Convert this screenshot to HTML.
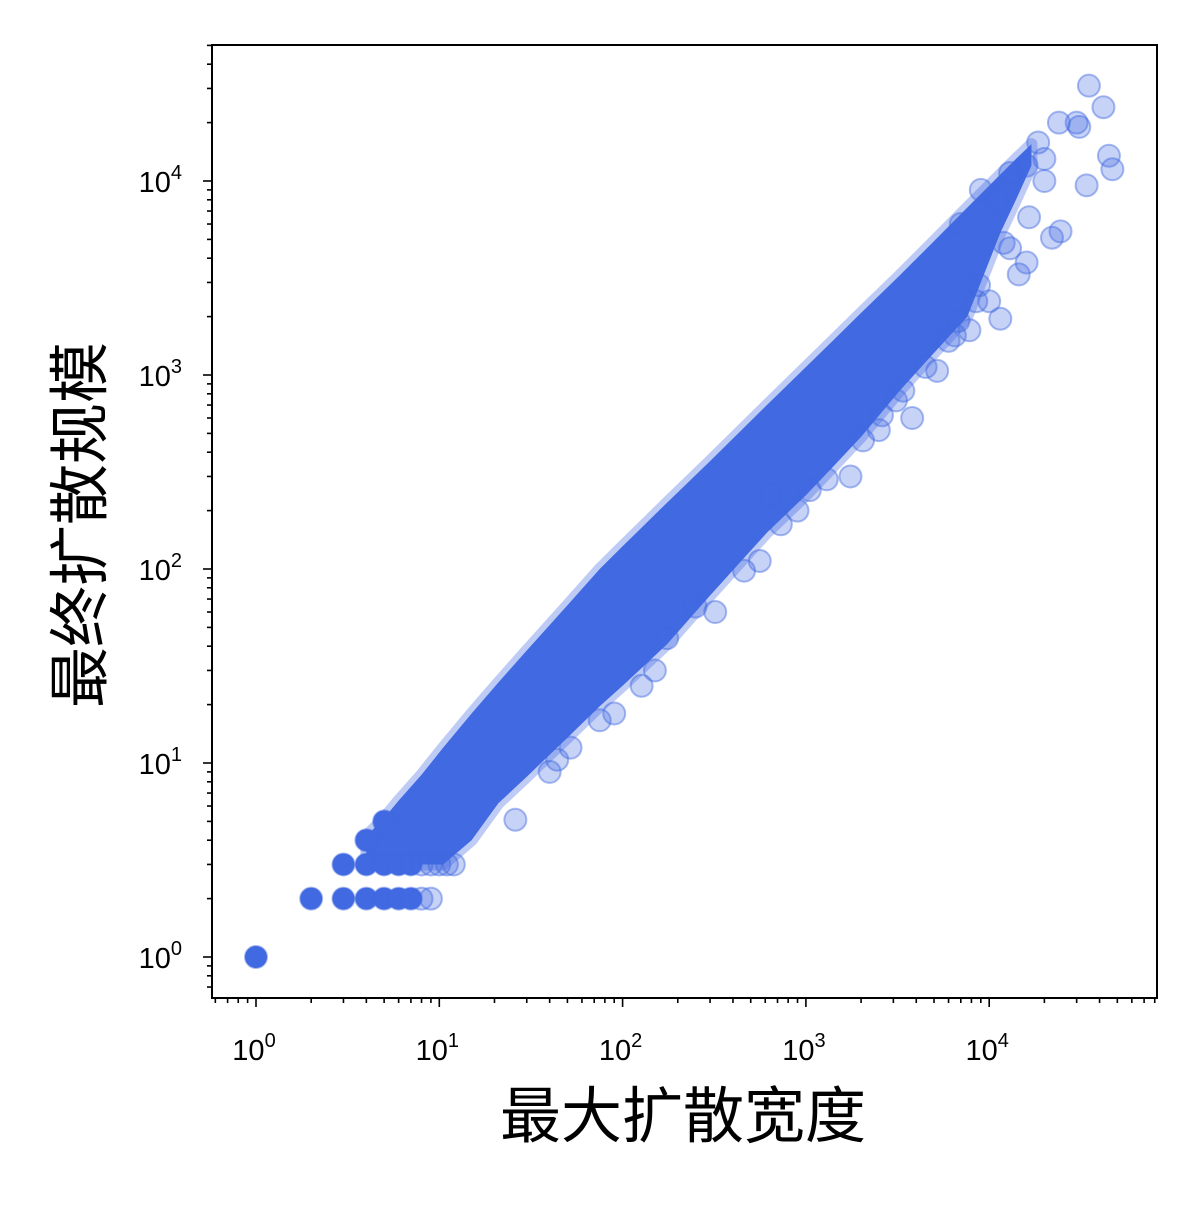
<!DOCTYPE html>
<html><head><meta charset="utf-8"><style>
html,body{margin:0;padding:0;background:#fff;}
svg text{font-family:"Liberation Sans","Noto Sans CJK SC",sans-serif;fill:#000;}
</style></head><body>
<svg id="chart" width="1200" height="1200" xmlns="http://www.w3.org/2000/svg">
<rect width="1200" height="1200" fill="#fff"/>
<g id="plot"></g>
<rect x="212" y="45" width="945" height="953" fill="none" stroke="#000" stroke-width="2"/>
<g id="axes"></g>
<text x="683" y="1137" font-size="61" text-anchor="middle" font-family="Noto Sans CJK SC">最大扩散宽度</text>
<text transform="translate(101,525) rotate(-90)" font-size="61" text-anchor="middle" font-family="Noto Sans CJK SC">最终扩散规模</text>
</svg>
<script>
const bandX = [4,5,6,8,10.5,15,21,30,50,75,100,175,300,613,1000,1400,2000,3250,5000,7600,11500,14000,17000];
const bandUpper = [4.2,5.2,6.4,8.7,12,18,26,38,65,100,131,220,360,700,1100,1500,2090,3260,4900,7300,10800,13000,15500];
const bandLower = [3,3,3,3,3,4,6.2,8.5,13.5,19.6,25,41,73,154,240,335,480,830,1300,2000,5400,8000,12000];
const ptX = [1,2,3,3,4,4,4,5,5,5,6,6,7,7,8,8,9,9,10,11,12,26,52,44,75,127,175,250,460,730,640,1050,1750,2050,2500,3100,3400,3800,5200,6000,6800,7800,8500,10000,11500,12000,14500,16000,16500,16000,18500,20000,22000,24500,24000,30000,31000,34000,35000,42000,45000,47000,13000,9000,11000,7000,40,90,150,320,560,900,1300,2600,4500,6500,8800,13000,20000];
const ptY = [1,2,3,2,4,3,2,5,3,2,3,2,3,2,3,2,3,2,3,3,3,5.1,12,10.4,16.6,25,44,64,98,170,240,255,300,460,520,740,830,600,1050,1500,1900,1700,2400,2400,1950,4800,3300,3800,6500,12000,15800,10000,5100,5500,20000,20000,19000,9500,31000,24000,13500,11500,11000,9000,8000,6000,9,18,30,60,110,200,290,620,1100,1600,2900,4500,13000];
const xTicks = [0,1,2,3,4];
const yTicks = [0,1,2,3,4];

const X0=256, XD=183.3, Y0=957, YD=194;
function sx(v){return X0+Math.log10(v)*XD;}
function sy(v){return Y0-Math.log10(v)*YD;}
const NS="http://www.w3.org/2000/svg";
const plot=document.getElementById('plot');
const axes=document.getElementById('axes');
const col="#4169E1";

let pts=[];
for(let i=0;i<bandX.length;i++) pts.push(sx(bandX[i])+','+sy(bandUpper[i]));
for(let i=bandX.length-1;i>=0;i--) pts.push(sx(bandX[i])+','+sy(bandLower[i]));
const band=document.createElementNS(NS,'polygon');


band.setAttribute('points',pts.join(' '));
band.setAttribute('fill',col);
band.setAttribute('stroke','rgba(65,105,225,0.35)');
band.setAttribute('stroke-width','12');
band.setAttribute('stroke-linejoin','round');
plot.appendChild(band);

for(let i=0;i<ptX.length;i++){
  const c=document.createElementNS(NS,'circle');
  
  
  c.setAttribute('cx',sx(ptX[i]));
  c.setAttribute('cy',sy(ptY[i]));
  c.setAttribute('r',11);
  const solid = ptX[i]<=7 && ptY[i]<=5;
  c.setAttribute('fill', solid? col : 'rgba(65,105,225,0.3)');
  c.setAttribute('stroke', 'rgba(65,105,225,0.45)');
  c.setAttribute('stroke-width','2');
  plot.appendChild(c);
}

function line(x1,y1,x2,y2,name){
  const l=document.createElementNS(NS,'line');
  
  
  l.setAttribute('x1',x1);l.setAttribute('y1',y1);l.setAttribute('x2',x2);l.setAttribute('y2',y2);
  l.setAttribute('stroke','#000');l.setAttribute('stroke-width','1.6');
  axes.appendChild(l);
}
function label(x,y,exp,anchor,name){
  const t=document.createElementNS(NS,'text');
  
  
  t.setAttribute('x',x);t.setAttribute('y',y);t.setAttribute('font-size','29');t.setAttribute('text-anchor',anchor);
  t.innerHTML='10<tspan dy="-13" font-size="20">'+exp+'</tspan>';
  axes.appendChild(t);
}
for(let d=-1;d<=4;d++){
  for(let m=1;m<10;m++){
    const v=m*Math.pow(10,d); const px=sx(v);
    if(px<212||px>1157) continue;
    if(m===1){line(px,998,px,1007,'x-major-tick');}
    else line(px,998,px,1003,'x-minor-tick');
  }
}
xTicks.forEach(e=>label(sx(Math.pow(10,e))-2,1060,e,'middle','x-tick-label'));
for(let d=-1;d<=4;d++){
  for(let m=1;m<10;m++){
    const v=m*Math.pow(10,d); const py=sy(v);
    if(py<45||py>998) continue;
    if(m===1){line(212,py,203,py,'y-major-tick');}
    else line(212,py,207,py,'y-minor-tick');
  }
}
yTicks.forEach(e=>label(182,sy(Math.pow(10,e))+11,e,'end','y-tick-label'));
</script>
</body></html>
